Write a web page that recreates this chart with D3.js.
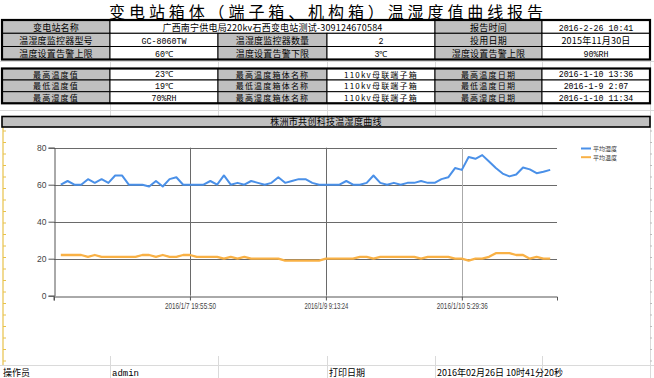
<!DOCTYPE html>
<html>
<head>
<meta charset="utf-8">
<script src="https://cdn.jsdelivr.net/npm/d3@7"></script>
<style>
  body { margin: 0; background: #fff; }
  svg { display: block; font-family: "Noto Sans CJK SC", "DejaVu Sans", sans-serif; }
</style>
</head>
<body>
<svg width="654" height="378"></svg>
<script>
// Report header data
const title = "变电站箱体（端子箱、机构箱）温湿度值曲线报告";
const infoRows = [
  [["变电站名称", 1, true], ["广西南宁供电局220kv石西变电站测试-309124670584", 3, false], ["报告时间", 1, true], ["2016-2-26  10:41", 1, false]],
  [["温湿度监控器型号", 1, true], ["GC-8060TW", 1, false], ["温湿度监控器数量", 1, true], ["2", 1, false], ["投用日期", 1, true], ["2015年11月30日", 1, false]],
  [["温度设置告警上限", 1, true], ["60℃", 1, false], ["温度设置告警下限", 1, true], ["3℃", 1, false], ["湿度设置告警上限", 1, true], ["90%RH", 1, false]]
];
const statRows = [
  [["最高温度值", 1, true], ["23℃", 1, false], ["最高温度箱体名称", 1, true], ["110kv母联端子箱", 1, false], ["最高温度日期", 1, true], ["2016-1-10  13:36", 1, false]],
  [["最低温度值", 1, true], ["19℃", 1, false], ["最低温度箱体名称", 1, true], ["110kv母联端子箱", 1, false], ["最低温度日期", 1, true], ["2016-1-9  2:07", 1, false]],
  [["最高湿度值", 1, true], ["70%RH", 1, false], ["最高湿度箱体名称", 1, true], ["110kv母联端子箱", 1, false], ["最高湿度日期", 1, true], ["2016-1-10  11:34", 1, false]]
];
const chartTitle = "株洲市共创科技温湿度曲线";
const footer = ["操作员", "admin", "", "打印日期", "2016年02月26日  10时41分20秒"];

// Series data (73 samples)
const humidity = [
  60, 62, 60, 60, 63, 61, 63, 61, 65, 65, 60, 60, 60, 59, 62, 59, 63, 64, 60, 60,
  60, 60, 62, 60, 65, 60, 61, 60, 62, 61, 60, 61, 64, 61, 62, 63, 63, 61, 60, 60,
  60, 60, 62, 60, 60, 61, 65, 61, 60, 61, 60, 61, 61, 62, 61, 61, 63, 64, 69, 68,
  75, 74, 76, 72.5, 69, 66, 64.5, 65.5, 69.3, 68.3, 66.2, 67, 68
];
const temperature = [
  22, 22, 22, 22, 21, 22, 21, 21, 21, 21, 21, 21, 22, 22, 21, 22, 21, 21, 22, 22,
  21, 21, 21, 21, 20, 21, 20, 21, 20, 20, 20, 20, 20, 19, 19, 19, 19, 19, 19, 20,
  20, 20, 20, 20, 21, 21, 20, 21, 21, 21, 21, 21, 21, 20, 21, 21, 21, 21, 20, 20,
  19, 20, 20, 21, 23, 23, 23, 22, 22, 20, 21, 20, 20
];
const seriesNames = ["平均湿度", "平均温度"];
const seriesColors = ["#4a90e8", "#f9b145"];
const yTicks = [0, 20, 40, 60, 80];
const xTickIdx = [19, 39, 59];
const xTickLabels = ["2016/1/7 19:55:50", "2016/1/9 9:13:24", "2016/1/10 5:29:36"];

const svg = d3.select("svg");
const colX = [2, 110, 218, 327, 435, 542, 650];
const isCJK = (t) => /[\u4e00-\u9fff]/.test(t);

// faint spreadsheet gridlines
const grid = svg.append("g").attr("stroke", "#dadada").attr("stroke-width", 1);
colX.slice(1).forEach((x) => {
  grid.append("line").attr("x1", x + 0.5).attr("x2", x + 0.5).attr("y1", 0).attr("y2", 378);
});
[61.5, 110.5, 365.5].forEach((y) => {
  grid.append("line").attr("x1", 0).attr("x2", 654).attr("y1", y).attr("y2", y);
});

// Title
svg.append("rect").attr("x", 0).attr("y", 0).attr("width", 654).attr("height", 19).attr("fill", "#fff");
svg.append("text")
  .attr("x", 328).attr("y", 18.2)
  .attr("text-anchor", "middle")
  .style("font-size", "16px")
  .style("letter-spacing", "3.9px")
  .text(title);

// Table drawing helper
function drawTable(rows, rowY, fs, ls) {
  const g = svg.append("g");
  rows.forEach((row, ri) => {
    let c = 0;
    const y0 = rowY[ri], y1 = rowY[ri + 1];
    row.forEach(([txt, span, gray]) => {
      const x0 = colX[c], x1 = colX[c + span];
      g.append("rect")
        .attr("x", x0).attr("y", y0)
        .attr("width", x1 - x0).attr("height", y1 - y0)
        .attr("fill", gray ? "#c0c0c0" : "#fff")
        .attr("stroke", "#000").attr("stroke-width", 1);
      const cjk = isCJK(txt);
      const t = g.append("text")
        .attr("x", (x0 + x1) / 2)
        .attr("text-anchor", "middle")
        .text(txt);
      if (cjk) {
        t.attr("y", y0 + (y1 - y0 - 1.45 * fs) / 2 + 1.16 * fs)
          .style("font-size", fs + "px")
          .style("letter-spacing", ls + "px");
      } else {
        t.attr("y", y1 - 2.8)
          .style("font-family", "'Liberation Mono', monospace")
          .style("font-size", "8.3px");
      }
      c += span;
    });
  });
  g.append("rect")
    .attr("x", colX[0]).attr("y", rowY[0])
    .attr("width", colX[6] - colX[0]).attr("height", rowY[rowY.length - 1] - rowY[0])
    .attr("fill", "none").attr("stroke", "#000").attr("stroke-width", 2.2);
}
drawTable(infoRows, [20, 33.3, 46.5, 59.5], 9, 0.2);
drawTable(statRows, [68.5, 80, 91.7, 103.3], 8, 1.2);

// Chart object area
svg.append("rect").attr("x", 2).attr("y", 116).attr("width", 648).attr("height", 240).attr("fill", "#fff");
// yellow chart border with small ticks on left
svg.append("line").attr("x1", 3).attr("x2", 3).attr("y1", 127).attr("y2", 365)
  .attr("stroke", "#e8c24a").attr("stroke-width", 1.2);
d3.range(131, 365, 11.5).forEach((y) => {
  svg.append("line").attr("x1", 3).attr("x2", 6).attr("y1", y).attr("y2", y)
    .attr("stroke", "#e8c24a").attr("stroke-width", 1);
  svg.append("line").attr("x1", 650).attr("x2", 652).attr("y1", y).attr("y2", y)
    .attr("stroke", "#bbb").attr("stroke-width", 1);
});

// Chart title bar
svg.append("rect").attr("x", 2).attr("y", 116.5).attr("width", 648).attr("height", 10.5)
  .attr("fill", "#c0c0c0").attr("stroke", "#000").attr("stroke-width", 1.6);
svg.append("text")
  .attr("x", 326).attr("y", 125.3)
  .attr("text-anchor", "middle")
  .style("font-size", "9px")
  .style("letter-spacing", "0.3px")
  .text(chartTitle);

// Scales
const x = d3.scaleLinear().domain([-1, 73]).range([54, 557]);
const y = d3.scaleLinear().domain([0, 80]).range([295.7, 147.7]);

const plot = svg.append("g");

// horizontal gridlines
plot.selectAll(".hgrid").data(yTicks.filter((d) => d > 0)).enter().append("line")
  .attr("x1", x(-1)).attr("x2", x(73))
  .attr("y1", (d) => Math.round(y(d)) + 0.5).attr("y2", (d) => Math.round(y(d)) + 0.5)
  .attr("stroke", "#6a6a6a").attr("stroke-width", 1);
// vertical gridlines
plot.selectAll(".vgrid").data(xTickIdx).enter().append("line")
  .attr("x1", (d) => Math.round(x(d)) + 0.5).attr("x2", (d) => Math.round(x(d)) + 0.5)
  .attr("y1", y(80)).attr("y2", y(0))
  .attr("stroke", (d, i) => (i === 2 ? "#aaa" : "#6a6a6a")).attr("stroke-width", 1);

// Axes
const yAxis = plot.append("g")
  .attr("transform", `translate(${Math.round(x(-1)) + 0.5},0)`)
  .call(d3.axisLeft(y).tickValues(yTicks).tickSize(6).tickPadding(2));
const xAxis = plot.append("g")
  .attr("transform", `translate(0,${Math.round(y(0)) + 0.5})`)
  .call(d3.axisBottom(x).tickValues(xTickIdx).tickFormat((d, i) => xTickLabels[i]).tickSize(4).tickPadding(2));
[yAxis, xAxis].forEach((a) => {
  a.select(".domain").attr("stroke", "#555");
  a.selectAll(".tick line").attr("stroke", "#555");
  a.selectAll("text")
    .attr("fill", "#444")
    .style("font-family", "'Liberation Sans', Arial, sans-serif")
    .style("font-size", "8.5px");
});
xAxis.selectAll("text")
  .style("font-size", "9.5px")
  .attr("textLength", (d, i) => (i === 1 ? 44 : 51))
  .attr("lengthAdjust", "spacingAndGlyphs");
xAxis.append("line").attr("x1", x(-1)).attr("x2", x(-1)).attr("y1", 0).attr("y2", 4).attr("stroke", "#555");

// Lines
const line = d3.line().x((d, i) => x(i)).y((d) => y(d));
[humidity, temperature].forEach((vals, i) => {
  plot.append("path")
    .datum(vals)
    .attr("fill", "none")
    .attr("stroke", seriesColors[i])
    .attr("stroke-width", i === 0 ? 2 : 2.3)
    .attr("stroke-linejoin", "round")
    .attr("d", line);
});

// Legend
const legend = svg.append("g").attr("transform", "translate(581,148.5)");
seriesNames.forEach((name, i) => {
  const ly = i * 8.7;
  legend.append("line").attr("x1", 0).attr("x2", 10).attr("y1", ly).attr("y2", ly)
    .attr("stroke", seriesColors[i]).attr("stroke-width", 2);
  legend.append("text").attr("x", 12).attr("y", ly + 2.3)
    .style("font-size", "6px").attr("fill", "#333").text(name);
});

// Footer row
const footX = [3, 112, 220, 329, 437];
footer.forEach((t, i) => {
  svg.append("text")
    .attr("x", footX[i]).attr("y", 375.5)
    .style("font-size", "9px")
    .style("font-family", isCJK(t) ? null : "'Liberation Mono', monospace")
    .text(t);
});
</script>
</body>
</html>
